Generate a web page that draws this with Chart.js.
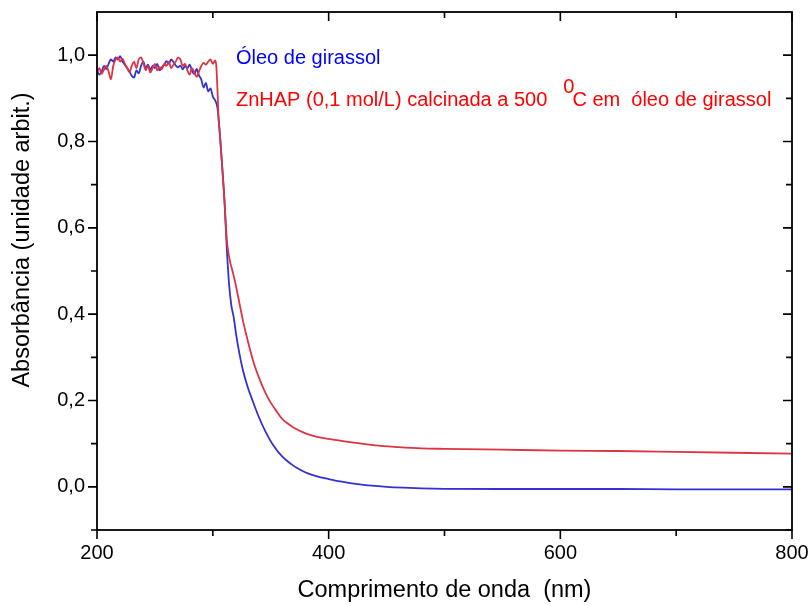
<!DOCTYPE html>
<html>
<head>
<meta charset="utf-8">
<script src="https://cdn.jsdelivr.net/npm/chart.js@4.4.1/dist/chart.umd.min.js"></script>
<style>
  html, body { margin: 0; padding: 0; background: #ffffff; }
  #spectrum { display: block; }
</style>
</head>
<body>
<canvas id="spectrum" width="812" height="606"></canvas>
<script>
// Óleo de girassol (sunflower oil) absorbance spectrum
const oilWavelength = [
  200, 202, 204, 206, 208, 210, 212, 214, 216, 218, 220, 222, 224, 226, 228, 230, 232, 234,
  236, 238, 240, 242, 244, 246, 248, 250, 252, 254, 256, 258, 260, 262, 264, 266, 268, 270,
  272, 274, 276, 278, 280, 282, 284, 286, 288, 290, 292, 294, 296, 298, 300, 302, 304,
  306, 308, 310, 312, 314, 316, 318, 320, 323, 326, 330, 334, 340, 346, 352, 360, 368, 375,
  382, 390, 400, 410, 420, 430, 440, 450, 465, 480, 500, 550, 600, 650, 700, 750, 800
];
const oilAbsorbance = [
  0.965, 0.955, 0.962, 0.975, 0.968, 0.980, 0.990, 0.985, 0.995, 0.990, 0.998, 0.985, 0.978, 0.970, 0.962, 0.952, 0.948, 0.965,
  0.958, 0.975, 0.985, 0.970, 0.978, 0.966, 0.975, 0.970, 0.980, 0.965, 0.972, 0.978, 0.986, 0.980, 0.990, 0.984, 0.976, 0.972,
  0.976, 0.967, 0.975, 0.970, 0.978, 0.964, 0.956, 0.968, 0.953, 0.944, 0.925, 0.936, 0.916, 0.923, 0.904, 0.895, 0.878,
  0.820, 0.745, 0.665, 0.555, 0.470, 0.420, 0.393, 0.355, 0.308, 0.270, 0.232, 0.202, 0.160, 0.125, 0.097, 0.070, 0.052, 0.040,
  0.031, 0.024, 0.018, 0.0125, 0.008, 0.0045, 0.002, 0.000, -0.002, -0.0035, -0.0045, -0.005, -0.005, -0.005, -0.006, -0.006, -0.006
];

// ZnHAP (0,1 mol/L) calcinada a 500 °C em óleo de girassol
const znhapWavelength = [
  200, 202, 204, 206, 208, 210, 212, 214, 216, 218, 220, 222, 224, 226, 228, 230, 232, 234,
  236, 238, 240, 242, 244, 246, 248, 250, 252, 254, 256, 258, 260, 262, 264, 266, 268, 270,
  272, 274, 276, 278, 280, 282, 284, 286, 288, 290, 292, 294, 296, 298, 300, 302, 303, 304,
  305, 306, 308, 310, 312, 313, 315, 317, 320, 323, 326, 330, 335, 340, 345, 350, 355, 360,
  365, 370, 380, 390, 400, 420, 440, 460, 480, 500, 550, 600, 650, 700, 750, 800
];
const znhapAbsorbance = [
  0.960, 0.970, 0.957, 0.966, 0.975, 0.962, 0.944, 0.975, 0.990, 0.995, 0.985, 0.992, 0.980, 0.971, 0.960, 0.975, 0.985, 0.970,
  0.990, 0.995, 0.982, 0.965, 0.975, 0.960, 0.970, 0.980, 0.965, 0.972, 0.967, 0.980, 0.975, 0.985, 0.970, 0.978, 0.985, 0.995,
  0.990, 0.975, 0.980, 0.965, 0.955, 0.970, 0.960, 0.950, 0.962, 0.975, 0.982, 0.978, 0.985, 0.990, 0.980, 0.988, 0.975, 0.920,
  0.850, 0.820, 0.745, 0.665, 0.575, 0.550, 0.520, 0.500, 0.465, 0.425, 0.385, 0.340, 0.290, 0.252, 0.220, 0.195, 0.175, 0.157,
  0.146, 0.137, 0.124, 0.116, 0.111, 0.103, 0.096, 0.092, 0.089, 0.088, 0.086, 0.084, 0.083, 0.081, 0.079, 0.077
];

// Axis ticks
const xLabelTicks = [200, 400, 600, 800];
const xMinorTicks = [300, 500, 700];
const yLabelTicks = [0.0, 0.2, 0.4, 0.6, 0.8, 1.0];
const yMinorTicks = [-0.1, 0.1, 0.3, 0.5, 0.7, 0.9];

const xTitle = 'Comprimento de onda  (nm)';
const yTitle = 'Absorbância (unidade arbit.)';
const oilLabel = 'Óleo de girassol';
const znhapLabelParts = ['ZnHAP (0,1 mol/L) calcinada a 500', '0', 'C em  óleo de girassol'];

const FONT = '"Liberation Sans", Arial, sans-serif';

function toPoints(xs, ys) {
  return xs.map((v, i) => ({ x: v, y: ys[i] }));
}

// keep the plot box fixed: no extra room reserved for overhanging tick labels
function fixBox(size) {
  return s => {
    if (s.isHorizontal()) s.height = size; else s.width = size;
    s.paddingLeft = 0; s.paddingRight = 0; s.paddingTop = 0; s.paddingBottom = 0;
  };
}

// Frame, inward/outward ticks, axis titles and the in-plot labels
const framePlugin = {
  id: 'framePlugin',
  afterDraw(chart) {
    const { ctx, chartArea: a, scales: { x, y } } = chart;
    ctx.save();
    ctx.strokeStyle = '#000000';
    ctx.lineWidth = 1.6;
    ctx.lineCap = 'butt';

    ctx.beginPath();
    const xTick = (v, len) => {
      const px = x.getPixelForValue(v);
      ctx.moveTo(px, a.bottom); ctx.lineTo(px, a.bottom + len);
      ctx.moveTo(px, a.top); ctx.lineTo(px, a.top + len);
    };
    const yTick = (v, len) => {
      const py = y.getPixelForValue(v);
      ctx.moveTo(a.left, py); ctx.lineTo(a.left - len, py);
      ctx.moveTo(a.right, py); ctx.lineTo(a.right - len, py);
    };
    xLabelTicks.forEach(v => xTick(v, 9));
    xMinorTicks.forEach(v => xTick(v, 6));
    yLabelTicks.forEach(v => yTick(v, 9));
    yMinorTicks.forEach(v => yTick(v, 6));
    ctx.stroke();

    ctx.lineWidth = 1.8;
    ctx.strokeRect(a.left, a.top, a.right - a.left, a.bottom - a.top);

    // axis titles
    ctx.fillStyle = '#000000';
    ctx.font = '23.5px ' + FONT;
    ctx.textAlign = 'center';
    ctx.textBaseline = 'middle';
    ctx.fillText(xTitle, (a.left + a.right) / 2, 591);
    ctx.save();
    ctx.translate(23, 240);
    ctx.rotate(-Math.PI / 2);
    ctx.fillText(yTitle, 0, 0);
    ctx.restore();

    // in-plot series labels
    ctx.textAlign = 'left';
    ctx.textBaseline = 'alphabetic';
    ctx.font = '20px ' + FONT;
    const lx = 236;
    ctx.fillStyle = '#0000ff';
    ctx.fillText(oilLabel, lx, 64);

    ctx.fillStyle = '#ff0000';
    let cx = lx;
    const base = 106;
    ctx.fillText(znhapLabelParts[0], cx, base);
    cx += ctx.measureText(znhapLabelParts[0]).width + 16;
    ctx.fillText(znhapLabelParts[1], cx, base - 13);
    cx += ctx.measureText(znhapLabelParts[1]).width - 2;
    ctx.fillText(znhapLabelParts[2], cx, base);
    ctx.restore();
  }
};

new Chart(document.getElementById('spectrum'), {
  type: 'line',
  data: {
    datasets: [
      {
        label: oilLabel,
        data: toPoints(oilWavelength, oilAbsorbance),
        borderColor: 'rgb(50, 50, 210)',
        borderWidth: 1.8,
        pointRadius: 0,
        cubicInterpolationMode: 'monotone',
        order: 1
      },
      {
        label: znhapLabelParts.join(''),
        data: toPoints(znhapWavelength, znhapAbsorbance),
        borderColor: 'rgb(220, 52, 66)',
        borderWidth: 1.8,
        pointRadius: 0,
        cubicInterpolationMode: 'monotone',
        order: 0
      }
    ]
  },
  options: {
    responsive: false,
    animation: false,
    devicePixelRatio: 1,
    parsing: false,
    layout: { padding: { top: 12, right: 20, bottom: 0, left: 0 } },
    plugins: { legend: { display: false }, tooltip: { enabled: false }, title: { display: false } },
    scales: {
      x: {
        type: 'linear',
        min: 200,
        max: 800,
        grid: { display: false, drawTicks: false },
        border: { display: false },
        ticks: {
          color: '#000000',
          font: { family: FONT, size: 20 },
          padding: 11,
          maxRotation: 0,
          callback: v => String(v)
        },
        afterBuildTicks: s => { s.ticks = xLabelTicks.map(v => ({ value: v })); },
        afterFit: fixBox(76)
      },
      y: {
        type: 'linear',
        min: -0.1,
        max: 1.1,
        grid: { display: false, drawTicks: false },
        border: { display: false },
        ticks: {
          color: '#000000',
          font: { family: FONT, size: 20 },
          padding: 12,
          callback: v => v.toFixed(1).replace('.', ',')
        },
        afterBuildTicks: s => { s.ticks = yLabelTicks.map(v => ({ value: v })); },
        afterFit: fixBox(97)
      }
    }
  },
  plugins: [framePlugin]
});
</script>
</body>
</html>
